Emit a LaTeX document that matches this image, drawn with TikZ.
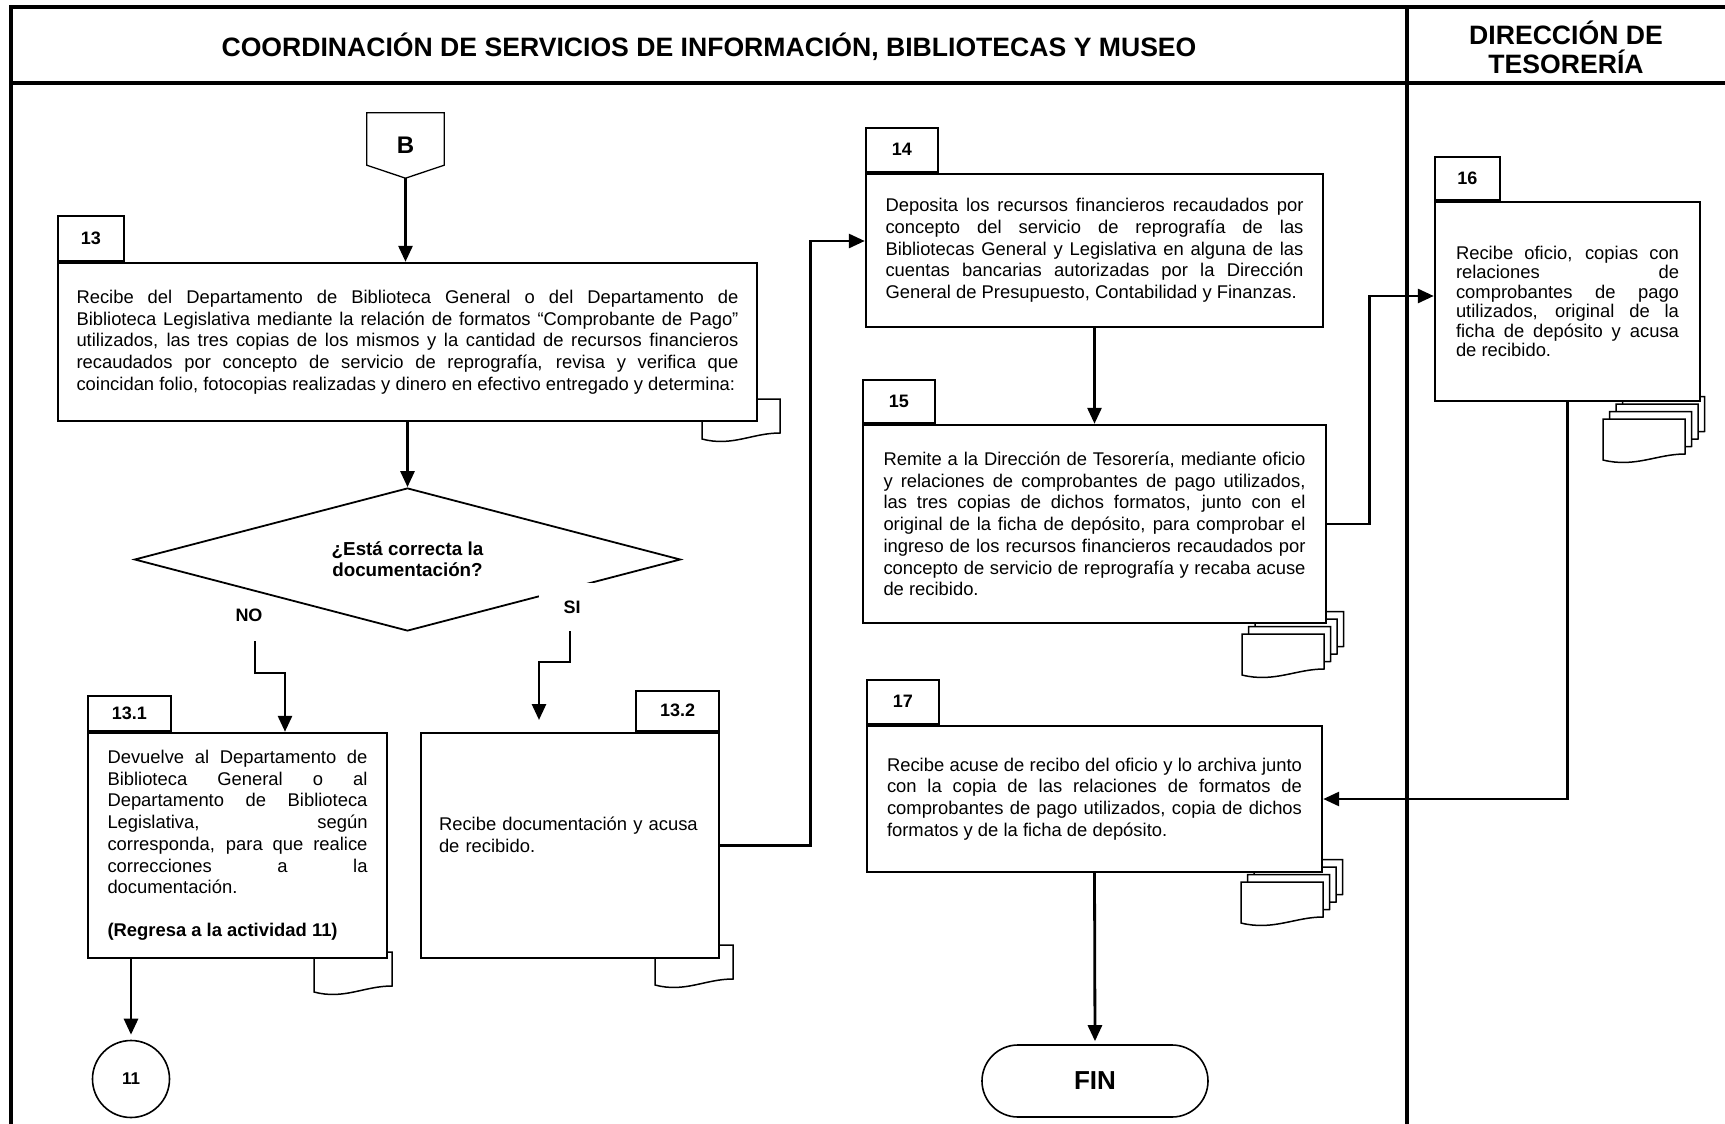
\documentclass[tikz,border=0pt]{standalone}
\usepackage{fontspec}
\setmainfont{Liberation Sans}
\usetikzlibrary{arrows.meta,shapes.geometric}
\tolerance=10000
\hyphenpenalty=10000

\tikzset{
	taskbox/.style={draw, fill=white, line width=2.4pt, inner sep=0pt, align=justify, font=\fontsize{18.4}{21.7}\selectfont},
	tabbox/.style={draw, fill=white, line width=2pt, inner sep=0pt, font=\bfseries\fontsize{18}{21}\selectfont},
	boldlabel/.style={inner sep=0pt, font=\bfseries\fontsize{18}{21}\selectfont},
	flow/.style={line width=2.8pt, -{Triangle[length=16pt,width=14pt]}},
	frameline/.style={line width=3.5pt},
	docline/.style={draw, fill=white, line width=1.5pt},
	docsheet/.pic={\path[docline] (0,0) -- (78,0) -- (78,34) .. controls (50,34) and (30,48) .. (0,40) -- cycle;},
	docstack/.pic={\foreach \k in {3,2,1,0}
		\path[docline, shift={(6.5*\k,-7.5*\k)}] (0,0) -- (82,0) -- (82,35) .. controls (54,35) and (32,49) .. (0,41) -- cycle;},
}

\begin{document}
\begin{tikzpicture}[x=1pt, y=-1pt]
	\useasboundingbox (0,0) rectangle (1725,1124);

	\draw[frameline] (11,1130) -- (11,7) -- (1730,7);
	\draw[frameline] (11,83) -- (1730,83);
	\draw[frameline] (1407,7) -- (1407,1130);
	\node[font=\bfseries\fontsize{26.6}{29}\selectfont] (hcsib) at (709,47) {COORDINACIÓN DE SERVICIOS DE INFORMACIÓN, BIBLIOTECAS Y MUSEO};
	\node[font=\bfseries\fontsize{26.6}{29}\selectfont, align=center] (hdt) at (1566,47.5) {DIRECCIÓN DE\\TESORERÍA};

	\pic at (702,399) {docsheet};
	\pic at (314,952) {docsheet};
	\pic at (655,945) {docsheet};
	\pic at (1242,634) {docstack};
	\pic at (1603,419) {docstack};
	\pic at (1241,882) {docstack};

	\node[minimum width=77pt, minimum height=65pt, inner sep=0pt, font=\bfseries\fontsize{24}{28}\selectfont] (bconn) at (405.5,145.5) {B};
	\draw[line width=1.3pt] (bconn.north west) -- (bconn.north east) -- ([yshift=13pt]bconn.south east) -- (bconn.south) -- ([yshift=13pt]bconn.south west) -- cycle;

	\node[taskbox, minimum width=699pt, minimum height=158pt, text width=662pt] (a13) at (407.5,342) {Recibe del Departamento de Biblioteca General o del Departamento de\linebreak Biblioteca Legislativa mediante la relación de formatos “Comprobante de Pago”\linebreak utilizados, las tres copias de los mismos y la cantidad de recursos financieros\linebreak recaudados por concepto de servicio de reprografía, revisa y verifica que\linebreak coincidan folio, fotocopias realizadas y dinero en efectivo entregado y determina:};
	\node[tabbox, anchor=south west, minimum width=66pt, minimum height=45pt] (t13) at (a13.north west) {13};

	\node[diamond, draw, line width=1.8pt, aspect=3.8, minimum width=546pt, minimum height=143pt, inner sep=0pt, align=center, font=\bfseries\fontsize{18.8}{21}\selectfont] (dec) at (407.5,559.5) {¿Está correcta la\\documentación?};
	\node[boldlabel] (lno) at (249,615) {NO};
	\node[boldlabel, fill=white, minimum width=66pt, minimum height=48pt] (lsi) at (572,607) {SI};
	\coordinate (nostart) at (255,641);
	\coordinate (sistart) at (570,631);
	\coordinate (siend) at (539,720);

	\node[taskbox, minimum width=299pt, minimum height=225pt, text width=260pt] (a131) at (237.5,845.5) {Devuelve al Departamento de\linebreak Biblioteca General o al\linebreak Departamento de Biblioteca\linebreak Legislativa, según\linebreak corresponda, para que realice\linebreak correcciones a la\linebreak documentación.\\[21.5pt]\textbf{(Regresa a la actividad 11)}};
	\node[tabbox, anchor=south west, minimum width=83pt, minimum height=35pt] (t131) at (a131.north west) {13.1};

	\node[taskbox, align=left, minimum width=298pt, minimum height=225pt, text width=262pt] (a132) at (570,845.5) {Recibe documentación y acusa\\de recibido.\\\mbox{}};
	\node[tabbox, anchor=south east, minimum width=83pt, minimum height=40pt] (t132) at (a132.north east) {13.2};

	\node[circle, draw, line width=1.6pt, minimum size=77pt, inner sep=0pt, font=\bfseries\fontsize{17}{20}\selectfont] (c11) at (131,1079) {11};

	\node[taskbox, minimum width=457pt, minimum height=153pt, text width=418pt] (a14) at (1094.5,250.5) {Deposita los recursos financieros recaudados por\linebreak concepto del servicio de reprografía de las\linebreak Bibliotecas General y Legislativa en alguna de las\linebreak cuentas bancarias autorizadas por la Dirección\linebreak General de Presupuesto, Contabilidad y Finanzas.};
	\node[tabbox, anchor=south west, minimum width=72pt, minimum height=44pt] (t14) at (a14.north west) {14};

	\node[taskbox, minimum width=463pt, minimum height=198pt, text width=422pt] (a15) at (1094.5,524) {Remite a la Dirección de Tesorería, mediante oficio\linebreak y relaciones de comprobantes de pago utilizados,\linebreak las tres copias de dichos formatos, junto con el\linebreak original de la ficha de depósito, para comprobar el\linebreak ingreso de los recursos financieros recaudados por\linebreak concepto de servicio de reprografía y recaba acuse\linebreak de recibido.};
	\node[tabbox, anchor=south west, minimum width=72pt, minimum height=43pt] (t15) at (a15.north west) {15};

	\node[taskbox, font=\fontsize{18.4}{19.5}\selectfont, minimum width=265pt, minimum height=199pt, text width=223pt] (a16) at (1567.5,301.5) {Recibe oficio, copias con\linebreak relaciones de\linebreak comprobantes de pago\linebreak utilizados, original de la\linebreak ficha de depósito y acusa\linebreak de recibido.};
	\node[tabbox, anchor=south west, minimum width=65pt, minimum height=43pt] (t16) at (a16.north west) {16};

	\node[taskbox, minimum width=455pt, minimum height=146pt, text width=415pt] (a17) at (1094.5,799) {Recibe acuse de recibo del oficio y lo archiva junto\linebreak con la copia de las relaciones de formatos de\linebreak comprobantes de pago utilizados, copia de dichos\linebreak formatos y de la ficha de depósito.};
	\node[tabbox, anchor=south west, minimum width=72pt, minimum height=44pt] (t17) at (a17.north west) {17};

	\node[draw, rounded corners=36pt, line width=1.6pt, minimum width=226pt, minimum height=72pt, font=\bfseries\fontsize{26}{30}\selectfont] (fin) at (1095,1081) {FIN};

	\draw[flow] (bconn.south) -- (bconn.south |- a13.north);
	\draw[flow] (a13.south) -- (dec.north);
	\draw[flow] (nostart) -- ++(0,32) -| ([xshift=47.5pt]a131.north);
	\draw[flow] (sistart) -- ++(0,31) -| (siend);
	\draw[flow, shorten >=5pt] (a131.south -| c11.north) -- (c11.north);
	\draw[flow] (a132.east) -- ++(90,0) |- ([yshift=9.5pt]a14.west);
	\draw[flow] (a14.south) -- (a15.north);
	\draw[flow] (a15.east) -- ++(42,0) |- ([yshift=5.5pt]a16.west);
	\draw[flow] (a16.south) |- (a17.east);
	\draw[flow, shorten >=3pt] (a17.south) -- (fin.north);
\end{tikzpicture}
\end{document}
